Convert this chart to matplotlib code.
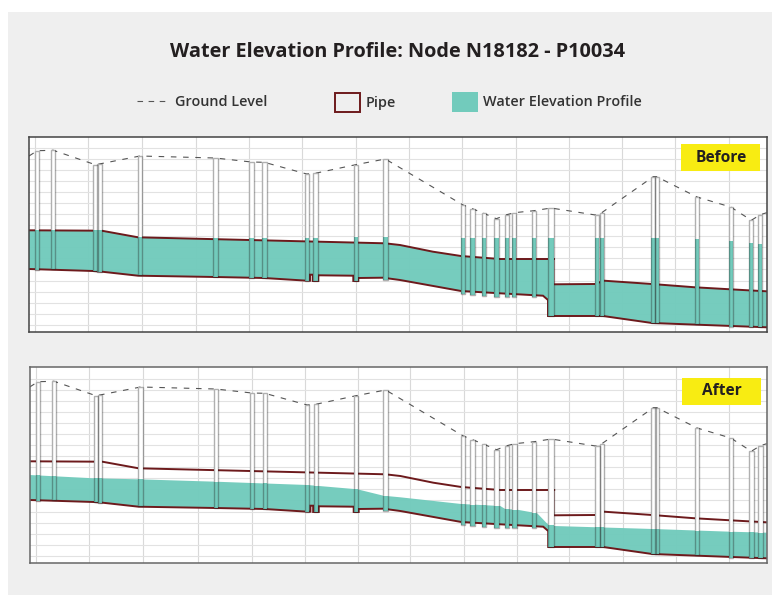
import numpy as np
import matplotlib
matplotlib.use("Agg")
import matplotlib.pyplot as plt
from matplotlib.patches import Rectangle
from matplotlib.lines import Line2D

W, H = 772, 595
TITLE = "Water Elevation Profile: Node N18182 - P10034"
LEGEND_LABELS = ["Ground Level", "Pipe", "Water Elevation Profile"]

ground_x = [29, 37.3, 53.3, 95.3, 99.3, 140, 215.3, 251.3, 264.3, 306.7, 315.3, 355.7, 385.3,
            463, 472.3, 483.7, 496.3, 506.7, 514.3, 534, 551, 597.3, 601.7, 653.3, 656.7,
            697, 730.7, 751.3, 760.3, 766.7]
ground_y = [184, 189.3, 189.7, 175.3, 176, 184, 182, 178, 177.7, 166, 166.7, 175.3, 181,
            135, 131.3, 126.7, 121.3, 125.3, 127.3, 129.3, 132, 124.7, 127.3, 163.3, 163.3,
            143, 133, 119.7, 125.3, 127.3]

manhole_x = [37.3, 53.3, 95.3, 99.3, 140, 215.3, 251.3, 264.3, 306.7, 315.3, 355.7, 385.3,
             463, 472.3, 483.7, 496.3, 506.7, 514.3, 534, 551, 597.3, 601.7, 653.3, 656.7,
             697, 730.7, 751.3, 760.3]
manhole_top = [189.3, 189.7, 175.3, 176, 184, 182, 178, 177.7, 166, 166.7, 175.3, 181,
               135, 131.3, 126.7, 121.3, 125.3, 127.3, 129.3, 132, 124.7, 127.3, 163.3, 163.3,
               143, 133, 119.7, 125.3]
manhole_bottom = [70.3, 70.7, 68.7, 68.3, 64.7, 63, 62.3, 62.3, 59.3, 59, 59, 60.3,
                  45.7, 45, 44, 43, 43, 43, 42.7, 24, 24.3, 24.3, 17, 17,
                  15.7, 12.7, 12.7, 12.7]
before_manhole_level = [109.7, 109.7, 109.7, 109.7, 103.3, 101.7, 102.3, 102.3, 102.3, 102.3, 102.7, 102.7,
                        102.3, 102.3, 102.3, 102.3, 102.3, 102.3, 102.3, 102.3, 102.3, 102.3, 101.7, 101.7,
                        101, 98.7, 97, 96]

crown_x = [29, 101.7, 138, 385, 400, 433, 461, 483, 500, 548, 554, 554, 595, 604, 652, 695, 748, 766.7]
crown_y = [109.7, 109.3, 102.7, 96.7, 95, 88.3, 84, 82.3, 81, 81, 81, 55.7, 56, 59.3, 56, 52.7, 49.7, 48.7]

invert_x = [29, 93, 102, 138, 215, 264, 307, 310, 310, 312.7, 312.7, 318.3, 318.3, 353.3, 353.3,
            358.3, 358.3, 383, 400, 461, 500, 543, 548, 548, 603, 652, 766.7]
invert_y = [71, 69, 68.3, 64.3, 63, 62, 59.3, 59.3, 65.3, 65.3, 59, 59, 64.7, 64.3, 59,
            59, 62, 62.3, 60, 49, 46.7, 44.3, 40, 24, 24, 17, 12.7]

after_water_x = [29, 93, 138, 215, 307, 357, 383, 400, 461, 500, 505, 517, 537, 548, 554, 597, 653, 730, 766.7]
after_water_y = [96, 92.7, 91.7, 89.3, 86, 81.7, 75.3, 73.7, 67, 65, 62, 61.3, 57.7, 46.3, 45, 43.7, 42, 39.3, 38.3]

grid_x_before = [35.3, 88.3, 142.3, 195.7, 249.3, 302.3, 355.7, 409, 462.3, 515.7, 569, 622.3, 675.3, 729]
grid_x_after = [35.3, 88.7, 142.3, 197.7, 251.3, 304.3, 357.3, 410, 463.3, 516.3, 569.3, 622.7, 675.7, 729.3]
grid_y = [192.5, 181.4, 170.3, 159.2, 148.2, 137.1, 126, 114.9, 103.8, 92.8, 81.7, 70.6, 59.5, 48.4, 37.4, 26.3, 15.2]

PIPE = "#6d1a1c"
WATER = "#72cbbc"
BG = "#efefef"
FONT = ["Open Sans", "DejaVu Sans"]

fig = plt.figure(figsize=(W / 100, H / 100), dpi=100, facecolor="white")

back = fig.add_axes([0, 0, 1, 1], zorder=-1)
back.set_xlim(0, W)
back.set_ylim(H, 0)
back.axis("off")
back.add_patch(Rectangle((8, 12), W - 8, H - 12, fc=BG, ec="none"))

over = fig.add_axes([0, 0, 1, 1], zorder=5)
over.set_xlim(0, W)
over.set_ylim(H, 0)
over.axis("off")
over.patch.set_alpha(0)


def panel(left, right, top, bottom, ylim, grid_x, water_top_x, water_top_y, levels, label, box, spine):
    ax = fig.add_axes([left / W, 1 - bottom / H, (right - left) / W, (bottom - top) / H], facecolor="white")
    ax.set_xlim(29, 766.7)
    ax.set_ylim(*ylim)
    ax.set_xticks(grid_x)
    ax.set_yticks(grid_y)
    ax.tick_params(length=0, labelbottom=False, labelleft=False)
    ax.grid(axis="x", color="#d9d9d9", lw=0.8)
    ax.grid(axis="y", color="#e2e2e2", lw=0.8)
    ax.set_axisbelow(True)
    for s in ax.spines.values():
        s.set_color(spine)
        s.set_linewidth(1.1)
        s.set_zorder(10)
    poly_x = list(water_top_x) + list(invert_x)[::-1]
    poly_y = list(water_top_y) + list(invert_y)[::-1]
    ax.fill(poly_x, poly_y, color=WATER, lw=0, alpha=0.97, zorder=2)
    # pipe crown: the drop at x=554 is only a hairline in the reference
    ax.plot(crown_x[:11], crown_y[:11], color=PIPE, lw=1.4, zorder=3, solid_joinstyle="miter")
    ax.plot(crown_x[9:12], crown_y[9:12], color=PIPE, lw=0.5, alpha=0.6, zorder=3)
    ax.plot(crown_x[11:], crown_y[11:], color=PIPE, lw=1.4, zorder=3, solid_joinstyle="miter")
    ax.plot(invert_x, invert_y, color=PIPE, lw=1.4, zorder=3, solid_joinstyle="miter")
    ax.plot(ground_x, ground_y, color="#555555", lw=0.8, ls=(0, (5, 6)), zorder=3)
    for i, x in enumerate(manhole_x):
        w = 5.5 if x == 551 else 4.4
        b, t, lv = manhole_bottom[i], manhole_top[i], levels[i]
        ax.add_patch(Rectangle((x - w / 2, b), w, t - b, fc="white", ec="none", zorder=4))
        ax.add_patch(Rectangle((x - w / 2, b), w, lv - b, fc=WATER, ec="none", zorder=5))
        ax.add_patch(Rectangle((x - w / 2, b), w, t - b, fc="none", ec=(0.15, 0.15, 0.15, 0.36), lw=1.0, zorder=6))
    x0, x1, y0, y1 = box
    over.add_patch(Rectangle((x0, y0), x1 - x0, y1 - y0, fc="#f8ec12", ec="none", zorder=20))
    over.text((x0 + x1) / 2 + 1, (y0 + y1) / 2, label, ha="center", va="center", fontsize=11.2,
              fontweight="bold", family=FONT, color="#231f20", zorder=21)
    return ax


panel(29, 766.7, 137.3, 332, (8, 202.7), grid_x_before, crown_x, crown_y,
      before_manhole_level, "Before", (681, 759.5, 144, 171), "#444444")
after_levels = np.interp(manhole_x, after_water_x, after_water_y)
panel(29.7, 766.7, 367, 563.3, (7.7, 204), grid_x_after, after_water_x, after_water_y,
      after_levels, "After", (682, 760.7, 377.5, 404.7), "#666666")

over.text(397, 52, TITLE, ha="center", va="center", fontsize=14.3, fontweight="bold",
          family=FONT, color="#231f20")
over.add_line(Line2D([137, 166], [101, 101], color="#555555", lw=0.8, ls=(0, (5, 5))))
over.text(175, 102, LEGEND_LABELS[0], ha="left", va="center", fontsize=10.4, fontweight="semibold",
          family=FONT, color="#333333")
over.add_patch(Rectangle((335, 93), 25, 18.5, fc="none", ec=PIPE, lw=1.4))
over.text(366, 103, LEGEND_LABELS[1], ha="left", va="center", fontsize=10.4, fontweight="semibold",
          family=FONT, color="#333333")
over.add_patch(Rectangle((452, 92), 26, 20, fc=WATER, ec="none"))
over.text(483, 102.5, LEGEND_LABELS[2], ha="left", va="center", fontsize=10.4, fontweight="semibold",
          family=FONT, color="#333333")

fig.savefig("out.png", dpi=100)
